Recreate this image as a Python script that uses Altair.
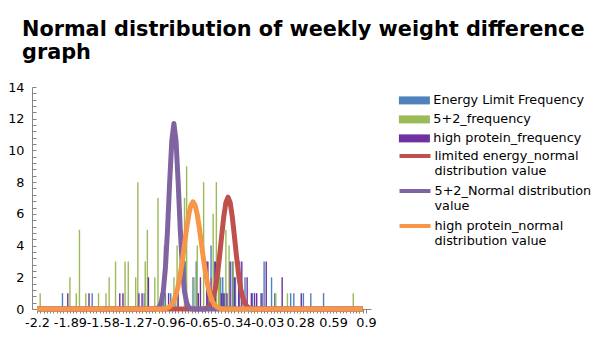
import json
import altair as alt
import pandas as pd

# ---------------- data ----------------
SERIES = [
    "Energy Limit Frequency",
    "5+2_frequency",
    "high protein_frequency",
    "limited energy_normal distribution value",
    "5+2_Normal distribution value",
    "high protein_normal distribution value",
]
COLORS = ["#4F81BD", "#9BBB59", "#7030A0", "#C0504D", "#8064A2", "#F79646"]
LEGEND_LINES = [
    ["Energy Limit Frequency"],
    ["5+2_frequency"],
    ["high protein_frequency"],
    ["limited energy_normal", "distribution value"],
    ["5+2_Normal distribution", "value"],
    ["high protein_normal", "distribution value"],
]

X_LABELS = [-2.2, -1.89, -1.58, -1.27, -0.96, -0.65, -0.34, -0.03, 0.28, 0.59, 0.9]
Y_LABELS = [0, 2, 4, 6, 8, 10, 12, 14]

# frequency bars
energy_x = [-1.96, -1.68, -1.19, -1.01, -0.99, -0.94, -0.90, -0.80, -0.73, -0.70,
            -0.56, -0.53, -0.47, -0.45, -0.43, -0.36, -0.33, -0.29, -0.24, -0.17,
            -0.09, -0.06, 0.01, 0.04, 0.19, 0.22, 0.31, 0.38, 0.50]
energy_n = [1, 1, 1, 2, 1, 1, 1, 2, 2, 3,
            2, 3, 2, 2, 1, 3, 2, 3, 2, 1,
            1, 3, 2, 1, 1, 1, 1, 1, 1]

five2_x = [-2.17, -1.89, -1.83, -1.80, -1.74, -1.62, -1.55, -1.52, -1.46, -1.37,
           -1.34, -1.27, -1.25, -1.18, -1.16, -1.09, -1.06, -1.00, -0.91, -0.88,
           -0.81, -0.79, -0.72, -0.69, -0.63, -0.58, -0.54, -0.51, -0.49, -0.48,
           -0.42, -0.39, -0.35, 0.05, 0.16, 0.78]
five2_n = [1, 2, 1, 5, 1, 1, 1, 2, 3, 3,
           3, 2, 8, 3, 5, 2, 7, 4, 2, 4,
           7, 9, 2, 4, 8, 1, 6, 8, 2, 4,
           5, 4, 3, 1, 1, 1]

hp_x = [-1.91, -1.71, -1.42, -1.39, -1.24, -1.21, -1.15, -1.03, -0.96, -0.87,
        -0.80, -0.68, -0.66, -0.60, -0.59, -0.56, -0.52, -0.46, -0.44, -0.41,
        -0.38, -0.34, -0.30, -0.27, -0.22, -0.18, -0.15, -0.13, -0.08, -0.04,
        0.11, 0.29]
hp_n = [1, 1, 1, 1, 1, 1, 2, 1, 1, 1,
        1, 1, 2, 3, 3, 2, 3, 1, 1, 1,
        3, 2, 3, 3, 2, 1, 1, 1, 1, 3,
        2, 1]

# normal distribution curves
le_x = [-2.2, -0.62, -0.60, -0.58, -0.56, -0.54, -0.52, -0.50, -0.48, -0.46, -0.44,
        -0.42, -0.40, -0.38, -0.36, -0.34, -0.32, -0.30, -0.28, -0.26, -0.24,
        -0.22, -0.20, -0.18, 0.87]
le_v = [0, 0, 0.06, 0.15, 0.34, 0.69, 1.28, 2.16, 3.31, 4.6, 5.83,
        6.72, 7.05, 6.72, 5.83, 4.6, 3.31, 2.16, 1.28, 0.69, 0.34,
        0.15, 0.06, 0, 0]

f2_x = [-2.2, -1.09, -1.07, -1.05, -1.03, -1.01, -0.99, -0.97, -0.95, -0.93, -0.91,
        -0.89, -0.87, -0.85, -0.83, -0.81, -0.79, -0.77, -0.75, -0.73, 0.87]
f2_v = [0, 0, 0.03, 0.11, 0.39, 1.1, 2.6, 5.0, 8.0, 10.6, 11.7,
        10.6, 8.0, 5.0, 2.6, 1.1, 0.39, 0.11, 0.03, 0, 0]

hpn_x = [-2.2, -1.01, -0.99, -0.97, -0.95, -0.93, -0.91, -0.89, -0.87, -0.85, -0.83,
         -0.81, -0.79, -0.77, -0.75, -0.73, -0.71, -0.69, -0.67, -0.65, -0.63,
         -0.61, -0.59, -0.57, -0.55, -0.53, -0.51, -0.49, -0.47, -0.45, 0.87]
hpn_v = [0, 0, 0.03, 0.07, 0.15, 0.30, 0.54, 0.91, 1.46, 2.19, 3.09,
         4.1, 5.1, 5.96, 6.54, 6.75, 6.54, 5.96, 5.1, 4.1, 3.09,
         2.19, 1.46, 0.91, 0.54, 0.30, 0.15, 0.07, 0.03, 0, 0]

# ---------------- tables ----------------
bar_rows = []
for name, xs, ns in [(SERIES[0], energy_x, energy_n),
                     (SERIES[1], five2_x, five2_n),
                     (SERIES[2], hp_x, hp_n)]:
    for x, n in zip(xs, ns):
        bar_rows.append({"series": name, "x": x, "n": n})
bars_df = pd.DataFrame(bar_rows)

curve_rows = []
for name, xs, vs in [(SERIES[3], le_x, le_v),
                     (SERIES[4], f2_x, f2_v),
                     (SERIES[5], hpn_x, hpn_v)]:
    for x, v in zip(xs, vs):
        curve_rows.append({"series": name, "x": x, "v": v})
curve_df = pd.DataFrame(curve_rows)

# ---------------- axes / legends ----------------
FONT = "DejaVu Sans"
GREY = "#868686"
x_ticks = [round(X_LABELS[0] + i * 0.031, 3) for i in range(101)]
y_minor = [round(i * 0.4, 1) for i in range(36)]

x_axis = alt.Axis(
    values=x_ticks,
    labelExpr="indexof(%s, round(datum.value*100)/100) >= 0 ? '' + round(datum.value*100)/100 : ''"
    % json.dumps(X_LABELS),
    labelOverlap=False, labelFlush=False, labelFont=FONT, labelFontSize=12.8,
    labelColor="#000", labelPadding=3, tickSize=4, tickColor=GREY, domainColor=GREY,
    grid=False, title=None,
)
y_axis_main = alt.Axis(
    values=Y_LABELS, ticks=False, tickSize=0, labelFont=FONT, labelFontSize=12.8,
    labelColor="#000", labelPadding=8, domainColor=GREY, grid=False, title=None,
)
y_axis_ticks = alt.Axis(
    values=y_minor, orient="left", offset=-4, ticks=True, tickSize=4, tickColor=GREY,
    labels=False, domain=False, grid=False, title=None,
)

label_expr = ""
for name, lines in zip(SERIES, LEGEND_LINES):
    label_expr += "datum.label == %s ? %s : " % (json.dumps(name), json.dumps(lines))
label_expr += "datum.label"

legend_common = dict(
    title=None, orient="none", labelFont=FONT, labelFontSize=12.8, labelColor="#000",
    labelExpr=label_expr, labelOffset=12.5, padding=0, rowPadding=5, symbolSize=100,
    labelLimit=300, legendX=376,
)
bar_legend = alt.Legend(
    legendY=7, symbolType="M-3.1,-0.8H3.1V0.8H-3.1Z", symbolStrokeWidth=0,
    **legend_common,
)
line_legend = alt.Legend(
    legendY=62, symbolType="M-3.1,0H3.1", symbolStrokeWidth=4,
    **legend_common,
)

x_scale = alt.Scale(domain=[-2.2, 0.9], nice=False, zero=False)
y_scale = alt.Scale(domain=[0, 14], nice=False)

bars = alt.Chart(bars_df).mark_bar(size=1.4).encode(
    x=alt.X("x:Q", scale=x_scale, axis=x_axis),
    y=alt.Y("n:Q", scale=y_scale, axis=y_axis_main),
    fill=alt.Fill("series:N", scale=alt.Scale(domain=SERIES[:3], range=COLORS[:3]),
                  legend=bar_legend),
)

line_scale = alt.Scale(domain=SERIES[3:], range=COLORS[3:])


def curve(name, axis):
    return alt.Chart(curve_df).transform_filter(
        alt.datum.series == name
    ).mark_line(strokeWidth=5, strokeJoin="round").encode(
        x=alt.X("x:Q", scale=x_scale, axis=x_axis),
        y=alt.Y("v:Q", scale=y_scale, axis=axis),
        stroke=alt.Stroke("series:N", scale=line_scale, legend=line_legend),
        order="x:Q",
    )


chart = alt.layer(
    bars,
    curve(SERIES[3], None),
    curve(SERIES[4], None),
    curve(SERIES[5], y_axis_ticks),
).resolve_axis(y="independent").properties(
    width=339,
    height=222,
    autosize=alt.AutoSizeParams(type="none"),
    padding={"left": 32, "top": 87, "right": 234, "bottom": 31},
    background="white",
    title=alt.TitleParams(
        text=["Normal distribution of weekly weight difference", "graph"],
        anchor="start", frame="group", font=FONT, fontSize=20.8, fontWeight="bold",
        color="#000", dx=-10, offset=17, lineHeight=23,
    ),
).configure_view(stroke=None)

chart.save("out.html", embed_options={"renderer": "svg", "actions": False})
